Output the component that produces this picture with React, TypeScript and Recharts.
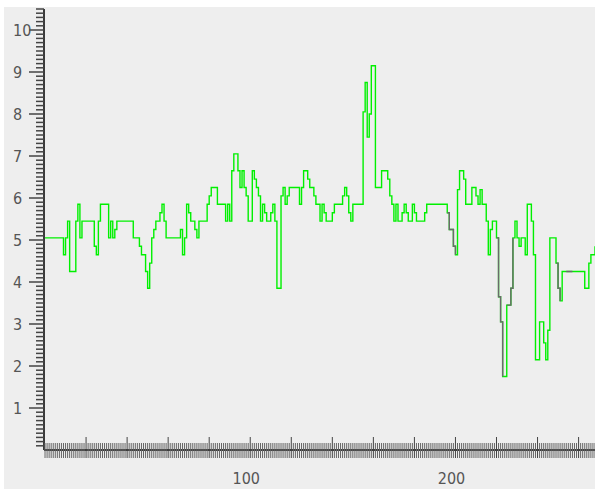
import React from 'react';
import { Line, LineChart, XAxis, YAxis } from 'recharts';

// one reading per sample, index = sample number
const VALUES = [
  5.05, 5.05, 5.05, 5.05, 5.05, 5.05, 5.05, 5.05, 5.05, 4.65,
  5.05, 5.45, 4.25, 4.25, 4.25, 5.45, 5.85, 5.05, 5.45, 5.45,
  5.45, 5.45, 5.45, 5.45, 4.85, 4.65, 5.45, 5.85, 5.85, 5.85,
  5.85, 5.05, 5.45, 5.05, 5.25, 5.45, 5.45, 5.45, 5.45, 5.45,
  5.45, 5.45, 5.45, 5.05, 5.05, 5.05, 4.85, 4.65, 4.65, 4.25,
  3.85, 4.45, 5.05, 5.25, 5.45, 5.45, 5.65, 5.85, 5.45, 5.05,
  5.05, 5.05, 5.05, 5.05, 5.05, 5.05, 5.25, 4.65, 5.05, 5.85,
  5.65, 5.45, 5.45, 5.25, 5.05, 5.45, 5.45, 5.45, 5.45, 5.85,
  6.05, 6.25, 6.25, 6.25, 5.85, 5.85, 5.85, 5.85, 5.45, 5.85,
  5.45, 6.65, 7.05, 7.05, 6.65, 6.25, 6.65, 6.25, 6.05, 5.45,
  5.45, 6.65, 6.45, 6.25, 6.05, 5.45, 5.85, 5.65, 5.45, 5.45,
  5.65, 5.85, 5.45, 3.85, 3.85, 6.05, 6.25, 5.85, 6.05, 6.25,
  6.25, 6.25, 6.25, 6.25, 5.85, 6.25, 6.65, 6.65, 6.45, 6.25,
  6.25, 6.05, 5.85, 5.85, 5.45, 5.85, 5.65, 5.45, 5.45, 5.45,
  5.65, 5.85, 5.85, 5.85, 5.85, 6.05, 6.25, 6.05, 5.65, 5.45,
  5.85, 5.85, 5.85, 5.85, 5.85, 8.05, 8.75, 7.45, 8.0, 9.15,
  9.15, 6.25, 6.25, 6.25, 6.65, 6.65, 6.65, 6.45, 6.05, 5.85,
  5.45, 5.85, 5.45, 5.45, 5.65, 5.85, 5.65, 5.45, 5.45, 5.85,
  5.65, 5.45, 5.45, 5.45, 5.45, 5.65, 5.85, 5.85, 5.85, 5.85,
  5.85, 5.85, 5.85, 5.85, 5.85, 5.85, 5.65, 5.25, 5.25, 4.85,
  4.65, 6.2, 6.65, 6.65, 6.45, 5.85, 5.85, 5.85, 6.25, 6.25,
  6.05, 5.85, 6.2, 5.85, 5.85, 5.45, 4.65, 5.25, 5.45, 5.45,
  5.05, 3.65, 3.05, 1.75, 1.75, 3.45, 3.45, 3.85, 5.05, 5.45,
  5.05, 4.85, 5.05, 5.05, 4.65, 5.85, 5.85, 5.45, 4.65, 2.15,
  2.15, 3.05, 3.05, 2.55, 2.15, 2.85, 5.05, 5.05, 5.05, 4.45,
  3.85, 3.55, 4.25, 4.25, 4.25, 4.25, 4.25, 4.25, 4.25, 4.25,
  4.25, 4.25, 4.25, 3.85, 3.85, 4.45, 4.65, 4.65, 4.85,
];

// sample ranges where the dark grey trace shows instead of the green one
const GREY_RUNS: [number, number][] = [
  [196, 200],
  [220, 223],
  [225, 228],
  [249, 251],
  [254, 257],
];

const X_MAX = 268;
const X_MAJOR_STEP = 20;
const X_LABELS = [100, 200];
const Y_MAX = 10.5;
const Y_MINOR = 0.1;
const Y_LABELS = [1, 2, 3, 4, 5, 6, 7, 8, 9, 10];

const data = VALUES.map((v, i) => ({
  i,
  v,
  g: GREY_RUNS.some(([a, b]) => i >= a && i <= b) ? v : null,
}));

const X_TICKS = Array.from({ length: X_MAX + 1 }, (_, k) => k);
const Y_TICKS = Array.from({ length: Math.round(Y_MAX / Y_MINOR) }, (_, k) => Math.round((k + 1) * Y_MINOR * 10) / 10);

const W = 591;
const H = 482;
const PLOT_LEFT = 40;
const PLOT_TOP = 2;
const X_AXIS_H = 39;
const PLOT_BOTTOM = H - X_AXIS_H;

const LABEL_FONT = "'Liberation Sans Narrow', 'Arial Narrow', 'DejaVu Sans Condensed', sans-serif";

function XTick({ x, payload }: any) {
  const v = payload.value as number;
  const major = v > 0 && v % X_MAJOR_STEP === 0;
  return (
    <g>
      <line
        x1={x}
        x2={x}
        y1={PLOT_BOTTOM - (major ? 13 : 7)}
        y2={PLOT_BOTTOM + 8}
        stroke={major ? '#444' : '#666'}
        strokeWidth={1}
      />
      {X_LABELS.includes(v) && (
        <text x={x - 4} y={PLOT_BOTTOM + 34} textAnchor="middle" fontFamily={LABEL_FONT} fontSize={16} fill="#555">
          {v}
        </text>
      )}
    </g>
  );
}

function YTick({ y, payload }: any) {
  const v = payload.value as number;
  const major = Math.abs(v - Math.round(v)) < 1e-6;
  return (
    <g>
      <line
        x1={PLOT_LEFT - (major ? 15 : 8)}
        x2={PLOT_LEFT}
        y1={y}
        y2={y}
        stroke="#444"
        strokeWidth={1.5}
      />
      {major && Y_LABELS.includes(Math.round(v)) && (
        <text x={9} y={y + 6} textAnchor="start" fontFamily={LABEL_FONT} fontSize={16} fill="#555">
          {Math.round(v)}
        </text>
      )}
    </g>
  );
}

export default function App() {
  return (
    <div style={{ position: 'absolute', left: 0, top: 0, width: 595, height: 489, background: '#ffffff', overflow: 'hidden' }}>
      <div style={{ position: 'absolute', left: 4, top: 7, width: W, height: H, background: '#eeeeee' }}>
        <LineChart width={W} height={H} data={data} margin={{ top: PLOT_TOP, right: 0, bottom: 0, left: 0 }}>
          <XAxis
            dataKey="i"
            type="number"
            domain={[-0.5, X_MAX]}
            ticks={X_TICKS}
            interval={0}
            tick={<XTick />}
            tickLine={false}
            axisLine={{ stroke: '#3a3a3a', strokeWidth: 2 }}
            height={X_AXIS_H}
            allowDataOverflow
          />
          <YAxis
            type="number"
            domain={[0, Y_MAX]}
            ticks={Y_TICKS}
            interval={0}
            tick={<YTick />}
            tickLine={false}
            axisLine={{ stroke: '#3a3a3a', strokeWidth: 2 }}
            width={PLOT_LEFT}
            allowDataOverflow
          />
          <Line
            type="stepAfter"
            dataKey="v"
            stroke="#00f000"
            strokeWidth={1.4}
            dot={false}
            activeDot={false}
            isAnimationActive={false}
          />
          <Line
            type="stepAfter"
            dataKey="g"
            stroke="#6a6a6a"
            strokeWidth={1.4}
            dot={false}
            activeDot={false}
            connectNulls={false}
            isAnimationActive={false}
          />
        </LineChart>
      </div>
    </div>
  );
}
